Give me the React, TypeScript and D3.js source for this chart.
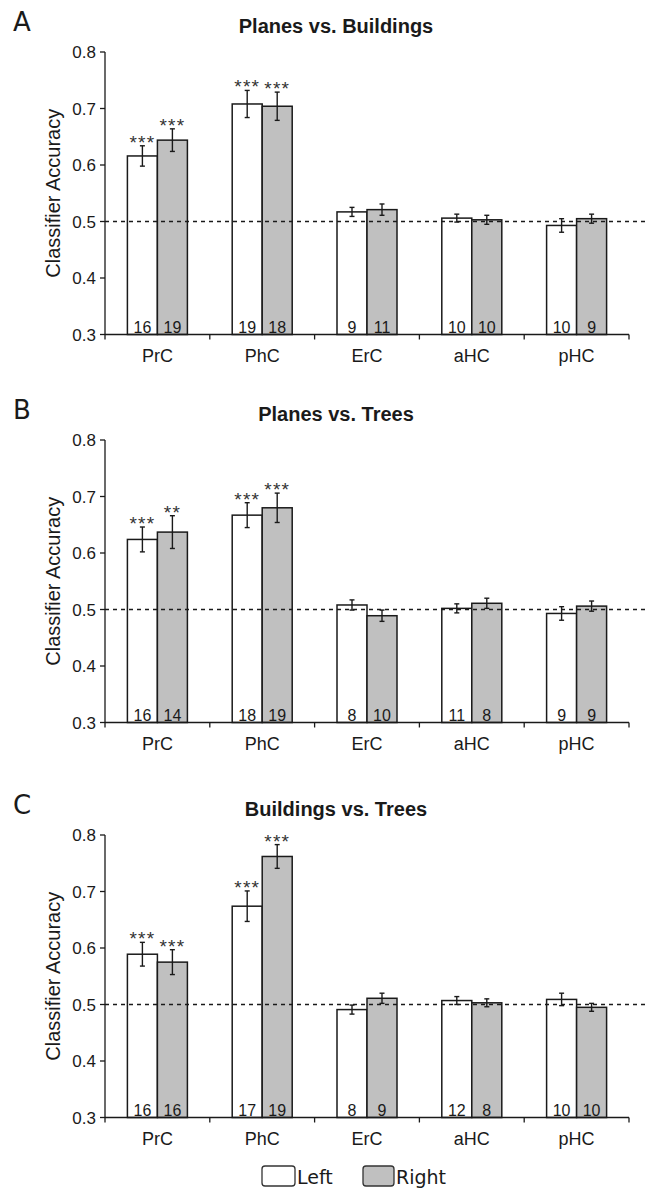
import * as d3 from "d3";

// categories and panel info
const categories = ["PrC", "PhC", "ErC", "aHC", "pHC"];
const panelLetters = ["A", "B", "C"];
const panelTitles = ["Planes vs. Buildings", "Planes vs. Trees", "Buildings vs. Trees"];
const yTicks = [0.3, 0.4, 0.5, 0.6, 0.7, 0.8];

// A: Planes vs. Buildings
const leftA = [0.616, 0.708, 0.517, 0.506, 0.493];
const rightA = [0.644, 0.704, 0.521, 0.503, 0.505];
const leftErrA = [0.018, 0.024, 0.008, 0.007, 0.012];
const rightErrA = [0.02, 0.025, 0.01, 0.008, 0.008];
const leftNA = [16, 19, 9, 10, 10];
const rightNA = [19, 18, 11, 10, 9];
const leftStarsA = ["***", "***", "", "", ""];
const rightStarsA = ["***", "***", "", "", ""];

// B: Planes vs. Trees
const leftB = [0.624, 0.667, 0.508, 0.502, 0.493];
const rightB = [0.637, 0.68, 0.489, 0.511, 0.506];
const leftErrB = [0.022, 0.022, 0.009, 0.008, 0.012];
const rightErrB = [0.029, 0.026, 0.01, 0.009, 0.009];
const leftNB = [16, 18, 8, 11, 9];
const rightNB = [14, 19, 10, 8, 9];
const leftStarsB = ["***", "***", "", "", ""];
const rightStarsB = ["**", "***", "", "", ""];

// C: Buildings vs. Trees
const leftC = [0.589, 0.674, 0.491, 0.507, 0.509];
const rightC = [0.575, 0.762, 0.511, 0.503, 0.495];
const leftErrC = [0.021, 0.027, 0.008, 0.007, 0.011];
const rightErrC = [0.022, 0.021, 0.009, 0.007, 0.007];
const leftNC = [16, 17, 8, 12, 10];
const rightNC = [16, 19, 9, 8, 10];
const leftStarsC = ["***", "***", "", "", ""];
const rightStarsC = ["***", "***", "", "", ""];

const panels = [
  { left: leftA, right: rightA, le: leftErrA, re: rightErrA, ln: leftNA, rn: rightNA, ls: leftStarsA, rs: rightStarsA, top: 52 },
  { left: leftB, right: rightB, le: leftErrB, re: rightErrB, ln: leftNB, rn: rightNB, ls: leftStarsB, rs: rightStarsB, top: 440 },
  { left: leftC, right: rightC, le: leftErrC, re: rightErrC, ln: leftNC, rn: rightNC, ls: leftStarsC, rs: rightStarsC, top: 835 },
];

const sides = ["Left", "Right"];
const fills: Record<string, string> = { Left: "#ffffff", Right: "#c0c0c0" };
const ink = "#1a1a1a";
const sans = "'Liberation Sans', Arial, sans-serif";

function Panel({ p, i }: { p: (typeof panels)[number]; i: number }) {
  const plotH = 282.5;
  const y = d3.scaleLinear().domain([0.3, 0.8]).range([p.top + plotH, p.top]);
  const x = d3.scaleBand().domain(categories).range([105, 629]);
  const inner = d3.scaleBand().domain(sides).range([-30, 30]);
  const bottom = y(0.3);

  const rows = categories.flatMap((c, k) => [
    { c, side: "Left", v: p.left[k], e: p.le[k], n: p.ln[k], s: p.ls[k] },
    { c, side: "Right", v: p.right[k], e: p.re[k], n: p.rn[k], s: p.rs[k] },
  ]);

  return (
    <g>
      <text x={13} y={p.top - 21} fontFamily="'DejaVu Sans', sans-serif" fontSize={26} fill={ink}>
        {panelLetters[i]}
      </text>
      <text x={336} y={p.top - 19} textAnchor="middle" fontFamily={sans} fontWeight="bold" fontSize={20} fill={ink}>
        {panelTitles[i]}
      </text>
      <text
        transform={`translate(60,${(p.top + bottom) / 2}) rotate(-90)`}
        textAnchor="middle"
        fontFamily={sans}
        fontSize={20}
        fill={ink}
      >
        Classifier Accuracy
      </text>

      {rows.map((r, k) => {
        const cx = x(r.c)! + x.bandwidth() / 2 + inner(r.side)!;
        return (
          <rect
            key={k}
            x={cx}
            y={y(r.v)}
            width={inner.bandwidth()}
            height={bottom - y(r.v)}
            fill={fills[r.side]}
            stroke={ink}
            strokeWidth={1.5}
          />
        );
      })}

      <line x1={105} x2={645} y1={y(0.5)} y2={y(0.5)} stroke={ink} strokeWidth={1.3} strokeDasharray="4,4" />

      {rows.map((r, k) => {
        const mid = x(r.c)! + x.bandwidth() / 2 + inner(r.side)! + inner.bandwidth() / 2;
        const t = y(r.v + r.e);
        const b = y(r.v - r.e);
        return (
          <g key={k}>
            <line x1={mid} x2={mid} y1={t} y2={b} stroke={ink} strokeWidth={1.4} />
            <line x1={mid - 2.5} x2={mid + 2.5} y1={t} y2={t} stroke={ink} strokeWidth={1.4} />
            <line x1={mid - 2.5} x2={mid + 2.5} y1={b} y2={b} stroke={ink} strokeWidth={1.4} />
            {r.s && (
              <text x={mid} y={t + 3} textAnchor="middle" fontFamily={sans} fontSize={19} letterSpacing={1.2} fill="#333">
                {r.s}
              </text>
            )}
            <text x={mid} y={bottom - 2} textAnchor="middle" fontFamily={sans} fontSize={16} fill={ink}>
              {r.n}
            </text>
          </g>
        );
      })}

      {/* y axis */}
      <line x1={105} x2={105} y1={p.top} y2={bottom} stroke={ink} strokeWidth={1.3} />
      {yTicks.map((t) => (
        <g key={t}>
          <line x1={100} x2={105} y1={y(t)} y2={y(t)} stroke={ink} strokeWidth={1.3} />
          <text x={96} y={y(t)} dy="0.36em" textAnchor="end" fontFamily={sans} fontSize={17} fill={ink}>
            {d3.format(".1f")(t)}
          </text>
        </g>
      ))}

      {/* x axis */}
      <line x1={105} x2={629} y1={bottom} y2={bottom} stroke={ink} strokeWidth={1.3} />
      {[...categories.map((c) => x(c)!), 629].map((v, k) => (
        <line key={k} x1={v} x2={v} y1={bottom} y2={bottom + 5} stroke={ink} strokeWidth={1.3} />
      ))}
      {categories.map((c) => (
        <text key={c} x={x(c)! + x.bandwidth() / 2} y={bottom + 27} textAnchor="middle" fontFamily={sans} fontSize={18} fill={ink}>
          {c}
        </text>
      ))}
    </g>
  );
}

export default function App() {
  return (
    <svg
      width={649}
      height={1189}
      style={{ position: "absolute", left: 0, top: 0, background: "#fff" }}
    >
      <rect width={649} height={1189} fill="#fff" />
      {panels.map((p, i) => (
        <Panel key={i} p={p} i={i} />
      ))}
      {/* legend */}
      <g fontFamily="'DejaVu Sans', sans-serif" fontSize={19} fill={ink}>
        <rect x={262} y={1166} width={33} height={20} rx={3} fill={fills.Left} stroke="#333" strokeWidth={1.3} />
        <text x={297} y={1184}>Left</text>
        <rect x={363} y={1166} width={31} height={20} rx={3} fill={fills.Right} stroke="#333" strokeWidth={1.3} />
        <text x={396} y={1184}>Right</text>
      </g>
    </svg>
  );
}
